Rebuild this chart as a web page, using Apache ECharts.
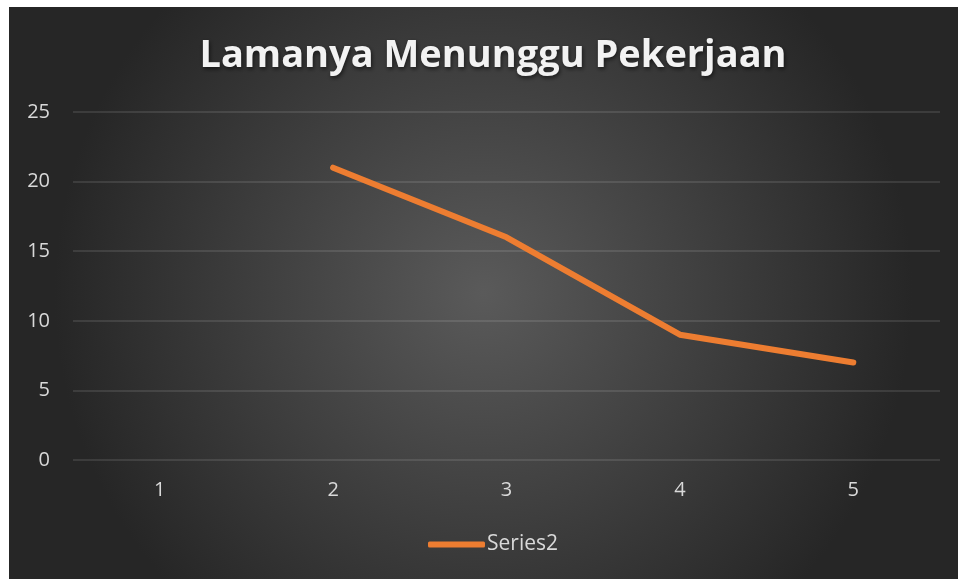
<!DOCTYPE html>
<html>
<head>
<meta charset="utf-8">
<style>
  html, body { margin: 0; padding: 0; background: #ffffff; }
  #chart { width: 958px; height: 579px; }
</style>
<script src="https://cdn.jsdelivr.net/npm/echarts@6/dist/echarts.min.js"></script>
</head>
<body>
<div id="chart"></div>
<script>
// data
var categories = ['1', '2', '3', '4', '5'];
var series2 = [null, 21, 16, 9, 7];

var myChart = echarts.init(document.getElementById('chart'));

var option = {
  backgroundColor: '#ffffff',
  animation: false,
  graphic: [{
    type: 'rect',
    z: -10,
    silent: true,
    shape: { x: 9, y: 7, width: 949, height: 572 },
    style: {
      fill: new echarts.graphic.RadialGradient(0.5, 0.5, 0.75, [
        { offset: 0, color: '#5a5a5a' },
        { offset: 1, color: '#262626' }
      ])
    }
  }],
  title: {
    text: 'Lamanya Menunggu Pekerjaan',
    left: 488,
    textAlign: 'center',
    top: 32,
    textStyle: {
      fontFamily: 'Open Sans',
      fontWeight: 'bold',
      fontSize: 38,
      color: '#f2f2f2',
      textShadowColor: 'rgba(0,0,0,0.6)',
      textShadowBlur: 4,
      textShadowOffsetX: 1,
      textShadowOffsetY: 2
    }
  },
  grid: { left: 73, right: 18, top: 112, bottom: 119 },
  xAxis: {
    type: 'category',
    data: categories,
    axisLine: { show: false },
    axisTick: { show: false },
    axisLabel: { color: '#d9d9d9', fontSize: 20, fontFamily: 'Open Sans', margin: 20 }
  },
  yAxis: {
    type: 'value',
    min: 0,
    max: 25,
    interval: 5,
    axisLine: { show: false },
    axisTick: { show: false },
    splitLine: { lineStyle: { color: 'rgba(255,255,255,0.14)', width: 1.5 } },
    axisLabel: { color: '#d9d9d9', fontSize: 20, fontFamily: 'Open Sans', margin: 23 }
  },
  legend: {
    bottom: 19,
    left: 423,
    itemWidth: 57,
    itemHeight: 6,
    itemGap: 4,
    icon: 'roundRect',
    textStyle: { color: '#d9d9d9', fontSize: 21, fontFamily: 'Open Sans', padding: [0, 0, 0, -3] },
    data: ['Series2']
  },
  series: [{
    name: 'Series2',
    type: 'line',
    data: series2,
    showSymbol: false,
    symbol: 'none',
    lineStyle: { color: '#ed7d31', width: 6, cap: 'round', join: 'round' },
    itemStyle: { color: '#ed7d31' }
  }]
};

myChart.setOption(option);
</script>
</body>
</html>
